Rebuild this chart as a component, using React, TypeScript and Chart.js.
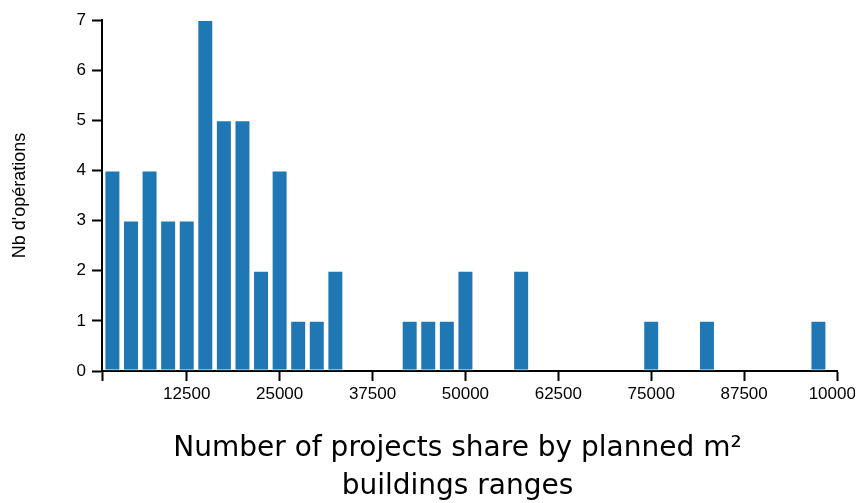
import React, { useEffect, useRef } from 'react';
import { Chart, registerables } from 'chart.js';

Chart.register(...registerables);

// Histogram bins (centre of each 2500 m² range) and number of operations
const binCenters = [2500, 5000, 7500, 10000, 12500, 15000, 17500, 20000, 22500, 25000, 27500, 30000, 32500, 42500, 45000, 47500, 50000, 57500, 75000, 82500, 97500];
const counts = [4, 3, 4, 3, 3, 7, 5, 5, 2, 4, 1, 1, 2, 1, 1, 1, 2, 2, 1, 1, 1];

const xAxisStart = 1100;
const xAxisEnd = 100000;
const xTickValues = [12500, 25000, 37500, 50000, 62500, 75000, 87500, 100000];
const yTickMax = 7;
const yTitle = "Nb d'opérations";
const captionLines = ['Number of projects share by planned m²', 'buildings ranges'];

const captionPlugin = {
  id: 'caption',
  afterDraw(chart: any) {
    const { ctx, chartArea } = chart;
    ctx.save();
    ctx.font = '28px "DejaVu Sans"';
    ctx.fillStyle = '#000';
    ctx.textAlign = 'center';
    ctx.textBaseline = 'alphabetic';
    const cx = (chartArea.left + chartArea.right) / 2 - 12;
    captionLines.forEach((line, i) => {
      ctx.fillText(line, cx, chartArea.bottom + 85 + i * 38);
    });
    ctx.restore();
  },
};

export default function App() {
  const canvasRef = useRef<HTMLCanvasElement | null>(null);

  useEffect(() => {
    document.body.style.margin = '0';
    const canvas = canvasRef.current;
    if (!canvas) return;
    const tickFont = { family: '"Liberation Sans", Arial, sans-serif', size: 17 };
    const axisGrid = {
      display: true,
      drawOnChartArea: false,
      drawTicks: true,
      tickLength: 10,
      tickColor: '#000',
      tickWidth: 2,
      offset: false,
    };
    const axisBorder = { display: true, color: '#000', width: 2 };

    const chart = new Chart(canvas, {
      type: 'bar',
      data: {
        datasets: [
          {
            data: binCenters.map((x, i) => ({ x, y: counts[i] })),
            backgroundColor: '#1f77b4',
            borderColor: 'rgba(255,255,255,0.5)',
            borderWidth: 1,
            borderSkipped: false,
            categoryPercentage: 0.86,
            barPercentage: 1,
          },
        ],
      },
      options: {
        animation: false,
        responsive: false,
        devicePixelRatio: 1,
        layout: { padding: { left: 6, top: 20, right: 0, bottom: 0 } },
        plugins: {
          legend: { display: false },
          tooltip: { enabled: false },
          title: { display: false },
        },
        scales: {
          x: {
            type: 'linear',
            min: xAxisStart,
            max: xAxisEnd,
            offset: false,
            grid: axisGrid,
            border: axisBorder,
            ticks: {
              font: tickFont,
              color: '#000',
              padding: 3,
              autoSkip: false,
              maxRotation: 0,
              callback: (v: any) => (v === xAxisStart ? '' : String(v)),
            },
            afterBuildTicks: (s: any) => {
              s.ticks = [xAxisStart, ...xTickValues].map((v) => ({ value: v }));
            },
            afterFit: (s: any) => {
              s.height = 132;
              s.paddingRight = 24;
              s.paddingLeft = 0;
            },
          },
          y: {
            type: 'linear',
            min: 0,
            max: yTickMax,
            grid: axisGrid,
            border: axisBorder,
            ticks: { stepSize: 1, font: tickFont, color: '#000', padding: 6 },
            title: {
              display: true,
              text: yTitle,
              color: '#000',
              font: { family: '"Liberation Sans", Arial, sans-serif', size: 18 },
              padding: { top: 3, bottom: 4 },
            },
            afterFit: (s: any) => {
              s.width = 96;
            },
          },
        },
      } as any,
      plugins: [captionPlugin],
    });
    return () => chart.destroy();
  }, []);

  return (
    <div style={{ width: 855, height: 503, overflow: 'hidden', background: '#fff' }}>
      <canvas ref={canvasRef} width={861} height={503} style={{ display: 'block' }} />
    </div>
  );
}
